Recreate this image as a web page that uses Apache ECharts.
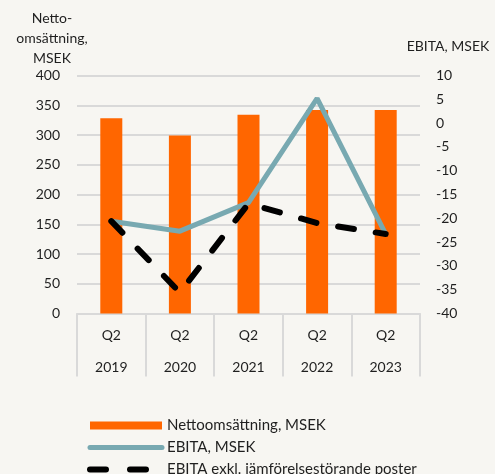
<!DOCTYPE html>
<html>
<head>
<meta charset="utf-8">
<script src="https://cdn.jsdelivr.net/npm/echarts@6/dist/echarts.min.js"></script>
<style>
  html, body { margin: 0; padding: 0; background: #f7f6f2; }
  #chart { width: 495px; height: 474px; }
</style>
</head>
<body>
<div id="chart"></div>
<script>
// kvartal och år for x-axeln
var quarters = ['Q2', 'Q2', 'Q2', 'Q2', 'Q2']
var years = ['2019', '2020', '2021', '2022', '2023']
// Nettoomsättning, MSEK (vänster axel)
var netSales = [328, 299, 334, 342, 342]
// EBITA, MSEK (höger axel)
var ebita = [-20.6, -22.7, -16.7, 5.2, -23.3]
// EBITA exkl. jämförelsestörande poster
var ebitaAdj = [-20.6, -35.6, -16.9, -21, -23.3]

var categories = quarters.map(function(q, i) {
  return q + '\n' + years[i]
})

var textColor = '#1f1f1f'
var font = 'Lato'

var chart = echarts.init(document.getElementById('chart'))

chart.setOption({
  backgroundColor: '#f7f6f2',
  animation: false,
  textStyle: {
    fontFamily: font
  },
  grid: {
    left: 77,
    right: 75,
    top: 75.5,
    bottom: 160.5
  },
  legend: {
    orient: 'vertical',
    left: 87,
    top: 418,
    height: 90,
    padding: 0,
    itemWidth: 72,
    itemHeight: 8,
    itemGap: 7,
    textStyle: {
      fontFamily: font,
      fontSize: 15,
      lineHeight: 14,
      letterSpacing: 0.4,
      color: textColor
    },
    data: [
      { name: 'Nettoomsättning, MSEK', icon: 'rect' },
      {
        name: 'EBITA, MSEK',
        itemStyle: { opacity: 0 },
        lineStyle: { width: 5, cap: 'round' }
      },
      {
        name: 'EBITA exkl. jämförelsestörande poster',
        itemStyle: { opacity: 0 },
        lineStyle: { width: 6, type: [16, 24], cap: 'round' }
      }
    ]
  },
  xAxis: {
    type: 'category',
    data: categories,
    axisLine: {
      lineStyle: {
        color: '#d9d9d9',
        width: 2
      }
    },
    axisTick: {
      show: true,
      length: 63,
      alignWithLabel: false,
      lineStyle: {
        color: '#d9d9d9',
        width: 2
      }
    },
    axisLabel: {
      color: textColor,
      fontSize: 14,
      lineHeight: 32,
      margin: 6
    }
  },
  yAxis: [
    {
      type: 'value',
      min: 0,
      max: 400,
      interval: 50,
      name: 'Netto-\nomsättning,\nMSEK',
      nameLocation: 'end',
      nameGap: 6,
      nameTextStyle: {
        color: textColor,
        fontSize: 14,
        lineHeight: 20,
        align: 'center',
        verticalAlign: 'bottom',
        padding: [0, 50, 0, 0]
      },
      axisLine: { show: false },
      axisTick: { show: false },
      axisLabel: {
        color: textColor,
        fontSize: 14,
        margin: 17
      },
      splitLine: {
        lineStyle: {
          color: '#d9d9d9',
          width: 2
        }
      }
    },
    {
      type: 'value',
      min: -40,
      max: 10,
      interval: 5,
      name: 'EBITA, MSEK',
      nameLocation: 'end',
      nameGap: 22,
      nameTextStyle: {
        color: textColor,
        fontSize: 14,
        align: 'center',
        verticalAlign: 'bottom',
        padding: [0, 0, 0, 56]
      },
      axisLine: { show: false },
      axisTick: { show: false },
      axisLabel: {
        color: textColor,
        fontSize: 14,
        margin: 16
      },
      splitLine: { show: false }
    }
  ],
  series: [
    {
      name: 'Nettoomsättning, MSEK',
      type: 'bar',
      barWidth: 22,
      yAxisIndex: 0,
      itemStyle: {
        color: '#ff6600'
      },
      data: netSales
    },
    {
      name: 'EBITA, MSEK',
      type: 'line',
      yAxisIndex: 1,
      symbol: 'none',
      lineStyle: {
        color: '#78a9b1',
        width: 5
      },
      itemStyle: {
        color: '#78a9b1'
      },
      data: ebita
    },
    {
      name: 'EBITA exkl. jämförelsestörande poster',
      type: 'line',
      yAxisIndex: 1,
      symbol: 'none',
      lineStyle: {
        color: '#000',
        width: 6,
        type: [16, 22],
        cap: 'round'
      },
      itemStyle: {
        color: '#000'
      },
      data: ebitaAdj
    }
  ]
})
</script>
</body>
</html>
